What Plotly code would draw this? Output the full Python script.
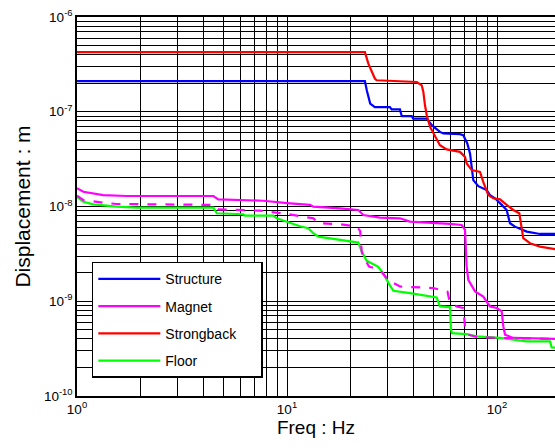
import plotly.graph_objects as go

# Frequencies (Hz) and displacements (m)
f_structure = [1, 23.5, 24.0, 24.9, 26.2, 30.9, 31.5, 34.5, 35.2, 39.3, 39.9, 46.3, 48.9, 53.5, 55.5,
               66.6, 69.1, 72.2, 74.4, 75.8, 77.1, 81.5, 89.3, 92.6, 97.8, 105.3, 111.2, 115.3, 121.8,
               138.5, 160.2, 200]
d_structure = [2.1e-7, 2.1e-7, 1.68e-7, 1.22e-7, 1.12e-7, 1.12e-7, 1.06e-7, 1.06e-7, 8.97e-8, 8.97e-8,
               8.48e-8, 8.48e-8, 7.21e-8, 6.13e-8, 5.9e-8, 5.8e-8, 5.66e-8, 4.63e-8, 3.63e-8, 2.42e-8,
               1.9e-8, 1.64e-8, 1.49e-8, 1.32e-8, 1.22e-8, 1.04e-8, 9.19e-9, 6.66e-9, 6.13e-9, 5.43e-9,
               5.13e-9, 5.13e-9]

f_strongback = [1, 23.5, 24.4, 25.3, 26.2, 26.7, 41.5, 43.8, 44.6, 45.4, 46.3, 48.0, 50.7, 53.5, 57.6,
                66.6, 70.4, 71.7, 75.8, 83.0, 86.0, 90.9, 96.0, 103.3, 111.2, 119.6, 127.7, 131.1,
                133.4, 143.6, 160.2, 200]
d_strongback = [4.26e-7, 4.26e-7, 3.22e-7, 2.62e-7, 2.24e-7, 2.15e-7, 2.06e-7, 1.9e-7, 1.62e-7, 1.17e-7,
                9.19e-8, 6.92e-8, 5.43e-8, 4.44e-8, 4.0e-8, 3.77e-8, 3.34e-8, 2.85e-8, 2.42e-8, 2.32e-8,
                1.82e-8, 1.32e-8, 1.22e-8, 1.19e-8, 1.04e-8, 9.19e-9, 8.48e-9, 5.66e-9, 4.63e-9, 4.1e-9,
                3.77e-9, 3.48e-9]

f_magnet = [1, 1.072, 1.334, 1.724, 4.46, 4.71, 7.71, 8.61, 10.33, 12.87, 13.34, 17.88, 21.86, 23.09,
            27.7, 34.5, 38.5, 59.7, 67.9, 70.4, 71.7, 73.0, 78.6, 86.0, 92.6, 99.7, 105.3, 107.2, 109.2,
            119.6, 200]
d_magnet = [1.555e-8, 1.43e-8, 1.32e-8, 1.29e-8, 1.29e-8, 1.19e-8, 1.15e-8, 1.12e-8, 1.08e-8, 1.04e-8,
            9.95e-9, 9.57e-9, 9.19e-9, 8.14e-9, 7.62e-9, 7.51e-9, 6.92e-9, 6.54e-9, 6.39e-9, 5.66e-9,
            2.32e-9, 1.68e-9, 1.27e-9, 1.12e-9, 8.82e-10, 8.48e-10, 7.81e-10, 5.43e-10, 4.44e-10,
            4.1e-10, 4.0e-10]

f_magnet2 = [1, 1.072, 1.334, 1.546, 4.46, 4.71, 7.44, 8.30, 9.97, 13.34, 14.1, 17.88, 21.5, 22.3, 22.7,
             23.09, 24.6, 27.7, 30.3, 34.5, 49.7, 58.1, 59.7, 64.3, 69.1, 70.4, 73.0, 80.1, 103.3, 200]
d_magnet2 = [1.3e-8, 1.17e-8, 1.096e-8, 1.062e-8, 1.04e-8, 9.34e-9, 9.03e-9, 8.82e-9, 8.34e-9, 7.51e-9,
             6.66e-9, 6.5e-9, 6.13e-9, 5.52e-9, 3.32e-9, 2.94e-9, 2.32e-9, 2.15e-9, 1.68e-9, 1.43e-9,
             1.38e-9, 1.26e-9, 9.64e-10, 8.82e-10, 8.48e-10, 5.43e-10, 4.44e-10, 4.2e-10, 4.1e-10, 4.0e-10]

f_floor = [1, 1.072, 1.196, 1.546, 1.924, 4.46, 4.63, 6.19, 6.31, 8.61, 8.93, 10.33, 11.53, 12.63, 13.34,
           14.1, 18.07, 21.86, 22.7, 23.96, 27.1, 28.7, 30.8, 32.1, 38.5, 51.6, 53.5, 59.7, 60.4, 61.1,
           71.7, 80.1, 103.3, 138.5, 178.8, 182.2, 200]
d_floor = [1.268e-8, 1.12e-8, 1.055e-8, 9.95e-9, 9.71e-9, 9.71e-9, 8.48e-9, 8.28e-9, 8.0e-9, 8.0e-9,
           7.51e-9, 6.66e-9, 6.19e-9, 5.9e-9, 5.22e-9, 4.81e-9, 4.47e-9, 4.16e-9, 3.34e-9, 2.67e-9,
           2.32e-9, 1.98e-9, 1.49e-9, 1.29e-9, 1.22e-9, 1.096e-9, 8.82e-10, 8.69e-10, 5.01e-10, 4.6e-10,
           4.49e-10, 4.26e-10, 4.1e-10, 3.77e-10, 3.77e-10, 3.26e-10, 3.22e-10]

x_ticks = [m * 10 ** e for e in range(0, 3) for m in range(1, 10)]
x_labels = ["10<sup>%d</sup>" % e if m == 1 else "" for e in range(0, 3) for m in range(1, 10)]
y_ticks = [m * 10.0 ** e for e in range(-10, -5) for m in range(1, 10)]
y_labels = ["10<sup>%d</sup>" % e if m == 1 else "" for e in range(-10, -5) for m in range(1, 10)]

FONT = "Liberation Sans, Arial, sans-serif"
PAD = "\u00a0" * 5

fig = go.Figure()
fig.add_trace(go.Scatter(x=f_structure, y=d_structure, mode="lines", name="Structure",
                         line=dict(color="#0000FF", width=2.2), legendgroup="a"))
fig.add_trace(go.Scatter(x=f_magnet, y=d_magnet, mode="lines", name="Magnet",
                         line=dict(color="#FF00FF", width=2.2), legendgroup="b"))
fig.add_trace(go.Scatter(x=f_strongback, y=d_strongback, mode="lines", name="Strongback" + PAD,
                         line=dict(color="#FF0000", width=2.2), legendgroup="c"))
fig.add_trace(go.Scatter(x=f_floor, y=d_floor, mode="lines", name="Floor",
                         line=dict(color="#00FF00", width=2.2), legendgroup="d"))
fig.add_trace(go.Scatter(x=f_magnet2, y=d_magnet2, mode="lines", name="Magnet",
                         line=dict(color="#FF00FF", width=2.2, dash="dash"), showlegend=False))

fig.update_layout(
    width=555, height=448,
    margin=dict(l=77, r=0, t=16.5, b=51.5),
    paper_bgcolor="white", plot_bgcolor="white",
    font=dict(family=FONT, color="black", size=13),
    showlegend=True,
    legend=dict(x=0.031, y=0.354, xanchor="left", yanchor="top",
                bgcolor="white", bordercolor="black", borderwidth=1.5,
                font=dict(size=14, family=FONT), traceorder="grouped",
                tracegroupgap=6, itemwidth=62),
)
fig.update_xaxes(type="log", range=[0, 2.2762], tickvals=x_ticks, ticktext=x_labels,
                 showgrid=True, gridcolor="black", gridwidth=1, automargin=False,
                 showline=True, linecolor="black", linewidth=1.5, mirror=True,
                 ticks="", tickfont=dict(size=13.5), zeroline=False,
                 title=dict(text="Freq : Hz", font=dict(size=19), standoff=4))
fig.update_yaxes(type="log", range=[-10, -6], tickvals=y_ticks, ticktext=y_labels,
                 showgrid=True, gridcolor="black", gridwidth=1, automargin=False,
                 showline=True, linecolor="black", linewidth=1.5, mirror=False,
                 ticks="", tickfont=dict(size=13.5), zeroline=False,
                 title=dict(text="Displacement : m", font=dict(size=21), standoff=8))

fig.write_html("out.html", config={"displayModeBar": False},
               post_script="document.body.style.margin='0';document.body.style.overflow='hidden';")
